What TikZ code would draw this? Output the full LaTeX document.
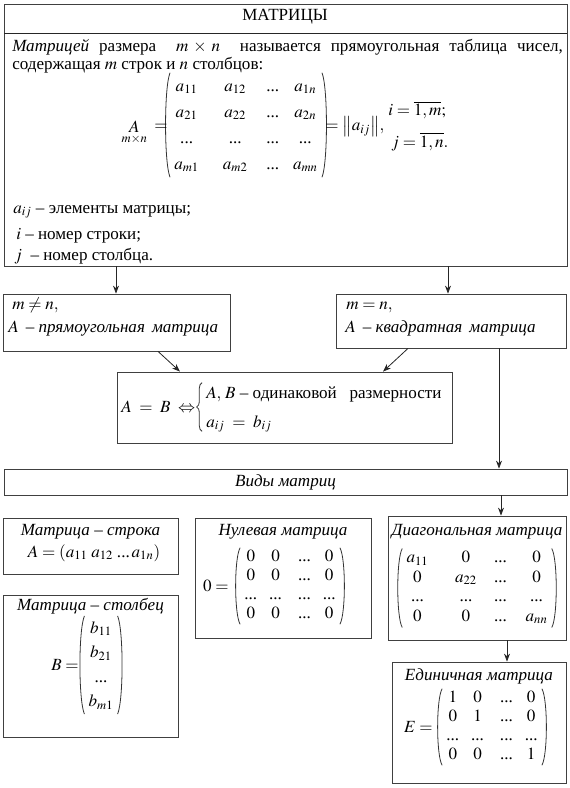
\documentclass[tikz,border=0pt]{standalone}
\usepackage{mathptmx}
\usepackage[no-math]{fontspec}
\setmainfont{Liberation Serif}
\usetikzlibrary{arrows.meta,fit,decorations.pathreplacing}
\tikzset{
  box/.style={draw=black!75, line width=0.6pt, inner sep=0pt},
  arr/.style={draw=black!85, line width=0.6pt, -{Stealth[length=6pt,width=4.5pt]}},
  ln/.style={draw=black!85, line width=0.6pt},
  paren/.style={draw=black!80, line width=0.6pt},
  brc/.style={draw=black!80, line width=0.6pt, decorate, decoration={brace, amplitude=4pt}},
  txt/.style={inner sep=0pt, font=\fontsize{12.8}{15}\selectfont},
  mat/.style={inner xsep=3pt, inner ysep=0pt, font=\fontsize{12.8}{15}\selectfont},
}
\newcommand{\dts}{\mbox{...}}
% parentheses drawn round a matrix node: #1 node, #2 bulge control (px)
\newcommand{\mparens}[2]{%
  \draw[paren] (#1.north west) .. controls ([shift={(-6,#2)}]#1.north west) and ([shift={(-6,-#2)}]#1.south west) .. (#1.south west);
  \draw[paren] (#1.north east) .. controls ([shift={(6,#2)}]#1.north east) and ([shift={(6,-#2)}]#1.south east) .. (#1.south east);}
\begin{document}
\begin{tikzpicture}[x=0.75pt,y=-0.75pt]
\useasboundingbox (0,0) rectangle (570,788);
% ---------- boxes ----------
\node[box, fit={(4,4) (567,266)}] (top) {};
\coordinate (divL) at (4,33);
\coordinate (divR) at (567,33);
\draw[ln] (divL) -- (divR);
\node[box, fit={(3,294) (230,351)}] (b1) {};
\node[box, fit={(336,294) (566,348)}] (b2) {};
\node[box, fit={(117,372) (452,443)}] (eq) {};
\node[box, fit={(4,469) (567,495)}] (vidy) {};
\node[box, fit={(3,518) (178,574)}] (row) {};
\node[box, fit={(3,595) (178,737)}] (col) {};
\node[box, fit={(195,518) (371,638)}] (zero) {};
\node[box, fit={(388,516) (566,640)}] (diag) {};
\node[box, fit={(392,662) (566,783)}] (unit) {};
% ---------- top box text ----------
\node[txt, anchor=base] (title) at (285,21) {МАТРИЦЫ};
\node[txt, anchor=base west] (def1) at (12,52)
  {\makebox[413pt][s]{\textit{Матрицей} размера \ $m\times n$ \ называется прямоугольная таблица чисел,}};
\node[txt, anchor=base west] (def2) at (12,70) {содержащая $m$ строк и $n$ столбцов:};
\node[mat] (Amat) at (246,125)
  {$\renewcommand{\arraystretch}{1.3}\begin{array}{@{}c@{\hspace{18pt}}c@{\hspace{14pt}}c@{\hspace{10.5pt}}c@{}}
   a_{11} & a_{12} & \dts & a_{1n}\\
   a_{21} & a_{22} & \dts & a_{2n}\\
   \dts & \dts & \dts & \dts\\
   a_{m1} & a_{m2} & \dts & a_{mn}
  \end{array}$};
\mparens{Amat}{14}
\node[txt, anchor=base east] (Amn) at (168,131) {$\mathop{A}\limits_{m\times n}\;=$};
\node[txt, anchor=base west] (norm) at (325,131) {$=\bigl\|a_{ij}\bigr\|,$};
\node[txt, anchor=base west] (irange) at (388,116) {$i=\overline{1,m};$};
\node[txt, anchor=base west] (jrange) at (391,147) {$j=\overline{1,n}.$};
\node[txt, anchor=base west] (l1) at (13,213) {$a_{ij}$ – элементы матрицы;};
\node[txt, anchor=base west] (l2) at (16,239) {$i$ – номер строки;};
\node[txt, anchor=base west] (l3) at (14,260) {$j$ \ – номер столбца.};
% ---------- second level ----------
\node[txt, anchor=base west] (b1a) at (12,309) {$m\neq n,$};
\node[txt, anchor=base west] (b1b) at (8,332) {\textit{$A$ \,– прямоугольная\, матрица}};
\node[txt, anchor=base west] (b2a) at (346,309) {$m=n,$};
\node[txt, anchor=base west] (b2b) at (345,332) {\textit{$A$ \,– квадратная\, матрица}};
\node[txt, anchor=west] (eqL) at (121,407) {$A\;=\;B\;\Leftrightarrow$};
\node[txt, anchor=west] (eqR) at (206,407)
  {\renewcommand{\arraystretch}{1.45}\begin{tabular}{@{}l@{}}
   $A,\,B$ – одинаковой\ \ \ размерности\\
   $a_{ij}\;=\;b_{ij}$
  \end{tabular}};
\draw[brc] ([shift={(-4,-5)}]eqR.south west) -- ([shift={(-4,5)}]eqR.north west);
\node[txt, anchor=base] (vidyt) at (285.5,486) {\textit{Виды матриц}};
% ---------- kinds ----------
\node[txt, anchor=base] (rowt) at (90.5,535) {\textit{Матрица – строка}};
\node[txt, anchor=base] (rowm) at (94,557) {$A=\left(a_{11}\;a_{12}\;\dts\,a_{1n}\right)$};
\node[txt, anchor=base] (colt) at (90.5,610) {\textit{Матрица – столбец}};
\node[mat] (colm) at (101,665)
  {$\renewcommand{\arraystretch}{1.22}\begin{array}{@{}c@{}}b_{11}\\ b_{21}\\ \dts\\ b_{m1}\end{array}$};
\mparens{colm}{14}
\node[txt, anchor=east] (colB) at (79,665) {$B=$};
\node[txt, anchor=base] (zerot) at (283,535) {\textit{Нулевая матрица}};
\node[mat] (zerom) at (290,586)
  {$\renewcommand{\arraystretch}{0.95}\begin{array}{@{}c@{\hspace{9pt}}c@{\hspace{12pt}}c@{\hspace{9pt}}c@{}}
   0&0&\dts&0\\ 0&0&\dts&0\\ \dts&\dts&\dts&\dts\\ 0&0&\dts&0
  \end{array}$};
\mparens{zerom}{10}
\node[txt, anchor=east] (zeroL) at (229,586) {$0=$};
\node[txt, anchor=base] (diagt) at (477,535) {\textit{Диагональная матрица}};
\node[mat] (diagm) at (477,588)
  {$\renewcommand{\arraystretch}{0.98}\begin{array}{@{}c@{\hspace{20pt}}c@{\hspace{13pt}}c@{\hspace{14pt}}c@{}}
   a_{11}&0&\dts&0\\ 0&a_{22}&\dts&0\\ \dts&\dts&\dts&\dts\\ 0&0&\dts&a_{nn}
  \end{array}$};
\mparens{diagm}{10}
\node[txt, anchor=base] (unitt) at (479,680) {\textit{Единичная матрица}};
\node[mat] (unitm) at (492,727)
  {$\renewcommand{\arraystretch}{0.95}\begin{array}{@{}c@{\hspace{9pt}}c@{\hspace{12pt}}c@{\hspace{9pt}}c@{}}
   1&0&\dts&0\\ 0&1&\dts&0\\ \dts&\dts&\dts&\dts\\ 0&0&\dts&1
  \end{array}$};
\mparens{unitm}{10}
\node[txt, anchor=east] (unitE) at (433,727) {$E=$};
% ---------- connectors ----------
\coordinate (x1) at (116,0);
\coordinate (x2) at (448,0);
\coordinate (x3) at (499,0);
\coordinate (x4) at (501,0);
\coordinate (x5) at (507,0);
\coordinate (d1s) at (158,0);
\coordinate (d1e) at (180,0);
\coordinate (d2s) at (408,0);
\coordinate (d2e) at (383,0);
\draw[arr] (top.south -| x1) -- (b1.north -| x1);
\draw[arr] (top.south -| x2) -- (b2.north -| x2);
\draw[arr] (b1.south -| d1s) -- (eq.north -| d1e);
\draw[arr] (b2.south -| d2s) -- (eq.north -| d2e);
\draw[arr] (b2.south -| x3) -- (vidy.north -| x3);
\draw[arr] (vidy.south -| x4) -- (diag.north -| x4);
\draw[arr] (diag.south -| x5) -- (unit.north -| x5);
\end{tikzpicture}
\end{document}
